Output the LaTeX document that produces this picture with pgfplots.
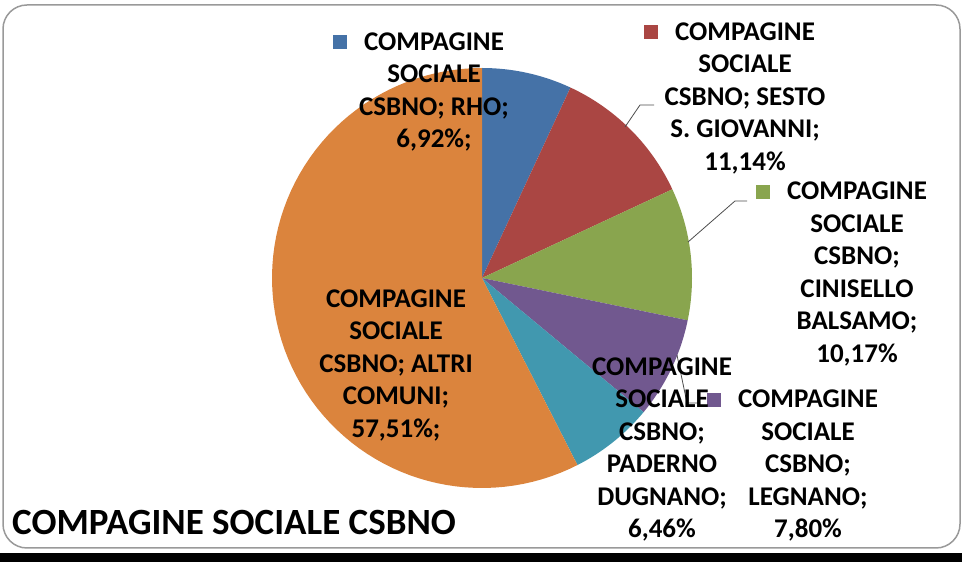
\documentclass[border=0pt]{standalone}
\usepackage{fontspec}
\setmainfont{Carlito}
\usepackage{pgfplots}
\pgfplotsset{compat=1.18}

\definecolor{cBlue}{HTML}{4572A7}
\definecolor{cRed}{HTML}{AA4643}
\definecolor{cGreen}{HTML}{89A54E}
\definecolor{cPurple}{HTML}{71588F}
\definecolor{cTeal}{HTML}{4198AF}
\definecolor{cOrange}{HTML}{DB843D}

\tikzset{lbl/.style={font=\bfseries\fontsize{27}{32.5}\selectfont, align=center, inner sep=0pt}}

% slice from cumulative share #1 to #2 (per cent), clockwise from 12 o'clock
\newcommand{\slice}[3]{%
  \addplot[fill=#3, draw=none, domain={90-3.6*#2}:{90-3.6*#1}, samples=80]
    ({482+210*cos(x)}, {284+210*sin(x)}) -- (482,284) -- cycle;}
\newcommand{\key}[1]{\llap{\raisebox{1pt}{\textcolor{#1}{\rule{14pt}{14pt}}}\hspace{17pt}}}

\begin{document}
\begin{tikzpicture}
\begin{axis}[
    x=1pt, y=1pt,
    xmin=0, xmax=962, ymin=0, ymax=562,
    hide axis, clip=false,
]
\path (0,0) rectangle (962,562);
% shares: 6.92, 11.14, 10.17, 7.80, 6.46, 57.51
\slice{0}{6.92}{cBlue}
\slice{6.92}{18.06}{cRed}
\slice{18.06}{28.23}{cGreen}
\slice{28.23}{36.03}{cPurple}
\slice{36.03}{42.49}{cTeal}
\slice{42.49}{100}{cOrange}

% leader lines
\draw[black!70, line width=0.8pt] (625,435) -- (640,457) -- (654,457);
\draw[black!70, line width=0.8pt] (688,320) -- (735,361) -- (747,361);
\draw[black!70, line width=0.8pt] (677,207) -- (687,159) -- (700,159);

\node[lbl] at (434,470) {\key{cBlue}COMPAGINE\\SOCIALE\\CSBNO; RHO;\\6,92\%;};
\node[lbl] at (745,464) {\key{cRed}COMPAGINE\\SOCIALE\\CSBNO; SESTO\\S. GIOVANNI;\\11,14\%};
\node[lbl] at (857,288) {\key{cGreen}COMPAGINE\\SOCIALE\\CSBNO;\\CINISELLO\\BALSAMO;\\10,17\%};
\node[lbl] at (808,96.5) {\key{cPurple}COMPAGINE\\SOCIALE\\CSBNO;\\LEGNANO;\\7,80\%};
\node[lbl] at (662,112.5) {\key{cTeal}COMPAGINE\\SOCIALE\\CSBNO;\\PADERNO\\DUGNANO;\\6,46\%};
\node[lbl] at (396,197) {\key{cOrange}COMPAGINE\\SOCIALE\\CSBNO; ALTRI\\COMUNI;\\57,51\%;};

\node[anchor=west, inner sep=0pt, font=\bfseries\fontsize{37}{44}\selectfont] at (12,40) {COMPAGINE SOCIALE CSBNO};

% frame
\draw[black!40, line width=1.5pt, rounded corners=24pt] (3,14) rectangle (960,557);
\fill[black] (0,0) rectangle (962,9);
\end{axis}
\end{tikzpicture}
\end{document}
